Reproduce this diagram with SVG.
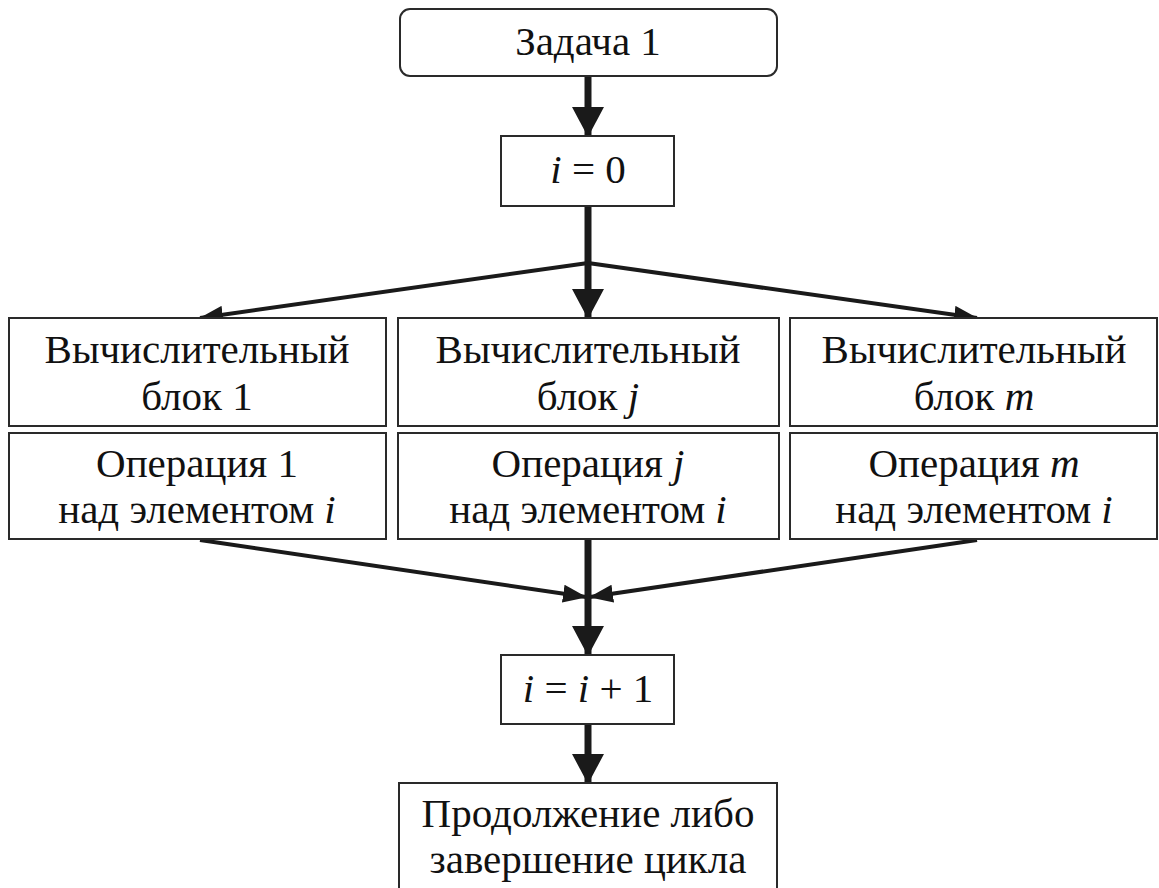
<svg xmlns="http://www.w3.org/2000/svg" width="1159" height="888" viewBox="0 0 1159 888">
<style>
.box{fill:#fff;stroke:#2a2a2a;stroke-width:2}
.t{font-family:"Liberation Serif","Times New Roman",serif;font-size:41px;fill:#111;text-anchor:middle}
.it{font-style:italic}
.thick{stroke:#1a1a1a;stroke-width:7;fill:none}
.thin{stroke:#1a1a1a;stroke-width:4;fill:none}
</style>
<defs>
<marker id="big" viewBox="0 0 30 32" markerWidth="30" markerHeight="32" markerUnits="userSpaceOnUse" refX="29" refY="16" orient="auto">
<path d="M0,0 L30,16 L0,32 z" fill="#1a1a1a"/>
</marker>
<marker id="small" viewBox="0 0 24 18" markerWidth="24" markerHeight="18" markerUnits="userSpaceOnUse" refX="23" refY="9" orient="auto">
<path d="M0,0 L24,9 L0,18 z" fill="#1a1a1a"/>
</marker>
</defs>
<rect width="1159" height="888" fill="#fff"/>
<g id="connectors">
<line class="thick" x1="588" y1="77" x2="588" y2="136" marker-end="url(#big)"/>
<line class="thick" x1="588" y1="206" x2="588" y2="318" marker-end="url(#big)"/>
<line class="thin" x1="588" y1="263" x2="200" y2="318" marker-end="url(#small)"/>
<line class="thin" x1="588" y1="263" x2="977" y2="318" marker-end="url(#small)"/>
<line class="thick" x1="588" y1="540" x2="588" y2="655" marker-end="url(#big)"/>
<line class="thin" x1="200" y1="540" x2="586" y2="597" marker-end="url(#small)"/>
<line class="thin" x1="977" y1="540" x2="590" y2="597" marker-end="url(#small)"/>
<line class="thick" x1="588" y1="724" x2="588" y2="783" marker-end="url(#big)"/>
</g>
<g id="task1">
<rect class="box" x="400" y="9" width="377" height="67" rx="10"/>
<text class="t" x="588" y="55">Задача 1</text>
</g>
<g id="init">
<rect class="box" x="501" y="136" width="173" height="70"/>
<text class="t" x="588" y="183"><tspan class="it">i</tspan> = 0</text>
</g>
<g id="block1">
<rect class="box" x="9" y="318" width="377" height="108"/>
<text class="t" x="197" y="363">Вычислительный</text>
<text class="t" x="197" y="410">блок 1</text>
</g>
<g id="op1">
<rect class="box" x="9" y="433" width="377" height="106"/>
<text class="t" x="197" y="477">Операция 1</text>
<text class="t" x="197" y="523">над элементом <tspan class="it">i</tspan></text>
</g>
<g id="blockj">
<rect class="box" x="398" y="318" width="381" height="108"/>
<text class="t" x="588" y="363">Вычислительный</text>
<text class="t" x="588" y="410">блок <tspan class="it">j</tspan></text>
</g>
<g id="opj">
<rect class="box" x="398" y="433" width="381" height="106"/>
<text class="t" x="588" y="477">Операция <tspan class="it">j</tspan></text>
<text class="t" x="588" y="523">над элементом <tspan class="it">i</tspan></text>
</g>
<g id="blockm">
<rect class="box" x="790" y="318" width="367" height="108"/>
<text class="t" x="974" y="363">Вычислительный</text>
<text class="t" x="974" y="410">блок <tspan class="it">m</tspan></text>
</g>
<g id="opm">
<rect class="box" x="790" y="433" width="367" height="106"/>
<text class="t" x="974" y="477">Операция <tspan class="it">m</tspan></text>
<text class="t" x="974" y="523">над элементом <tspan class="it">i</tspan></text>
</g>
<g id="incr">
<rect class="box" x="501" y="655" width="173" height="69"/>
<text class="t" x="588" y="702"><tspan class="it">i</tspan> = <tspan class="it">i</tspan> + 1</text>
</g>
<g id="end">
<rect class="box" x="399" y="783" width="378" height="120"/>
<text class="t" x="588" y="827">Продолжение либо</text>
<text class="t" x="588" y="873">завершение цикла</text>
</g>
</svg>
